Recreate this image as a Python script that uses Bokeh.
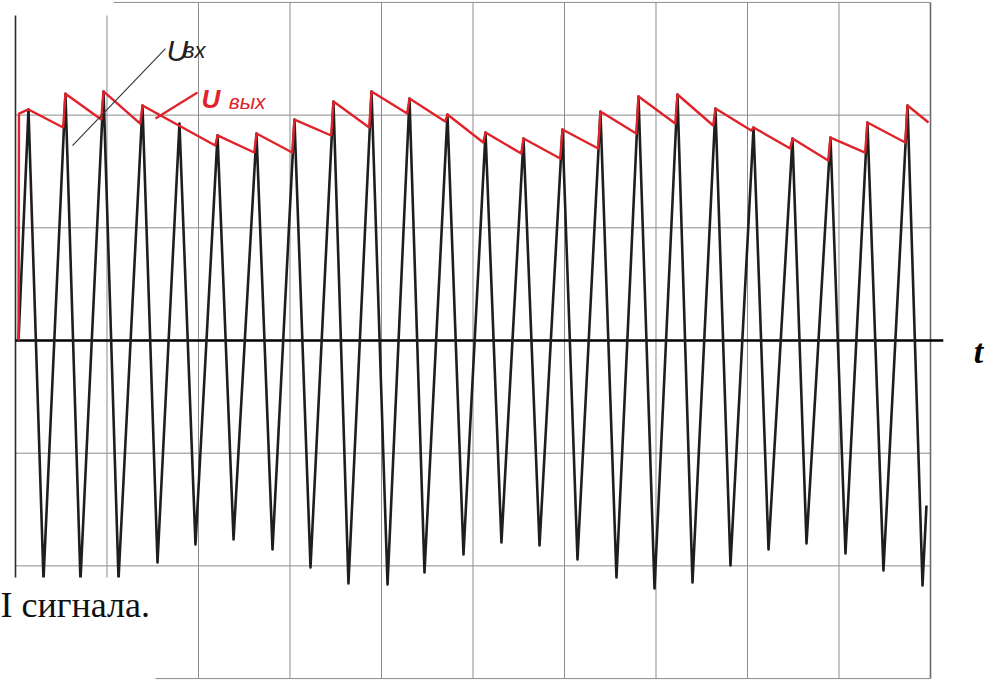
from bokeh.plotting import figure
from bokeh.models import Range1d, Label
from bokeh.embed import file_html
from bokeh.resources import INLINE

# ---- data (units: grid divisions) ----
grid_x = [0, 1, 2, 3, 4, 5, 6, 7, 8, 9, 10]
grid_y = [-3, -2, -1, 1, 2, 3]

start_t, start_v = 0.033, 0.0
peak_t = [0.142, 0.546, 0.962, 1.388, 1.792, 2.208, 2.634, 3.049, 3.475, 3.891, 4.306, 4.721,
          5.137, 5.552, 5.978, 6.393, 6.809, 7.235, 7.650, 8.066, 8.492, 8.907, 9.311, 9.749]
peak_v = [2.05, 2.19, 2.21, 2.085, 1.925, 1.82, 1.837, 1.96, 2.12, 2.21, 2.147, 2.005,
          1.846, 1.792, 1.872, 2.032, 2.165, 2.183, 2.059, 1.89, 1.792, 1.801, 1.934, 2.085]
trough_t = [0.306, 0.710, 1.126, 1.552, 1.967, 2.383, 2.809, 3.224, 3.639, 4.066, 4.470, 4.896,
            5.311, 5.727, 6.142, 6.568, 6.984, 7.399, 7.814, 8.230, 8.645, 9.071, 9.486, 9.913]
trough_v = [-2.12, -2.13, -2.12, -1.97, -1.81, -1.766, -1.855, -2.014, -2.156, -2.165, -2.059, -1.899,
            -1.792, -1.819, -1.943, -2.103, -2.201, -2.147, -1.996, -1.855, -1.801, -1.89, -2.041, -2.174]
end_t, end_v = 9.956, -1.464

red_t = [0.033, 0.038, 0.142, 0.521, 0.546, 0.937, 0.962, 1.363, 1.388, 2.183, 2.208, 2.609,
         2.634, 3.024, 3.049, 3.450, 3.475, 3.866, 3.891, 4.281, 4.306, 4.696, 4.721, 5.112,
         5.137, 5.527, 5.552, 5.953, 5.978, 6.368, 6.393, 6.784, 6.809, 7.210, 7.235, 7.625,
         7.650, 8.041, 8.066, 8.467, 8.492, 8.882, 8.907, 9.286, 9.311, 9.724, 9.749, 9.978]
red_v = [0.0, 2.014, 2.05, 1.89, 2.19, 1.961, 2.21, 1.925, 2.085, 1.730, 1.82, 1.668,
         1.837, 1.668, 1.96, 1.819, 2.12, 1.89, 2.21, 2.014, 2.147, 1.943, 2.005, 1.757,
         1.846, 1.659, 1.792, 1.615, 1.872, 1.704, 2.032, 1.837, 2.165, 1.925, 2.183, 1.908,
         2.059, 1.863, 1.89, 1.704, 1.792, 1.597, 1.801, 1.668, 1.934, 1.757, 2.085, 1.934]

axis_end = 10.14
label_in = ("U", "вх")
label_out = ("U", "вых")
axis_label = "t"
caption = "I сигнала."

# ---- figure ----
W, H = 988, 680
p = figure(width=W, height=H, x_range=Range1d(-0.1639, 10.634), y_range=Range1d(-3.017, 3.017),
           output_backend="svg", toolbar_location=None, min_border=0,
           x_axis_location=None, y_axis_location=None,
           outline_line_color=None, background_fill_color="white", border_fill_color="white")
p.grid.visible = False

ylo, yhi = grid_y[0], grid_y[-1]
inner_x = grid_x[1:-1]
p.segment(x0=inner_x, y0=[ylo] * len(inner_x), x1=inner_x, y1=[yhi] * len(inner_x),
          line_color="#8c8c8c", line_width=1)
p.segment(x0=[grid_x[0]] * len(grid_y), y0=grid_y, x1=[grid_x[-1]] * len(grid_y), y1=grid_y,
          line_color="#8c8c8c", line_width=1)
p.segment(x0=[grid_x[0]], y0=[ylo], x1=[grid_x[0]], y1=[yhi], line_color="#2b2b2b", line_width=1.6)
p.segment(x0=[grid_x[-1]], y0=[ylo], x1=[grid_x[-1]], y1=[yhi], line_color="#6a6a6a", line_width=1.6)

# white patch at top-left (scan artefact)
p.quad(left=[-0.3], right=[1.071], bottom=[2.884], top=[3.2], fill_color="white", line_color=None)

# zero axis
p.line(x=[grid_x[0], axis_end], y=[0, 0], line_color="black", line_width=2.6)

# input AM signal
wx = [start_t]
wy = [start_v]
for a, b, c, d in zip(peak_t, peak_v, trough_t, trough_v):
    wx += [a, c]
    wy += [b, d]
wx.append(end_t)
wy.append(end_v)
p.line(x=wx, y=wy, line_color="#1e1e1e", line_width=2.6, line_join="round")

# detector output
p.line(x=red_t, y=red_v, line_color="#e0232b", line_width=2.4, line_join="round")

# leader lines
p.line(x=[1.639, 0.623], y=[2.591, 1.730], line_color="#333333", line_width=1.1)
p.line(x=[1.989, 1.530], y=[2.201, 1.970], line_color="#e0232b", line_width=2.2)

# white patch at bottom-left with caption
p.quad(left=[-0.3], right=[1.530], bottom=[-3.2], top=[-2.103], fill_color="white", line_color=None)

p.add_layout(Label(x=1.650, y=2.575, text=label_in[0], text_font="Liberation Sans",
                   text_font_style="italic", text_font_size="30px", text_color="#222222",
                   text_baseline="alphabetic", text_align="left"))
p.add_layout(Label(x=1.830, y=2.575, text=label_in[1], text_font="Liberation Sans",
                   text_font_style="italic", text_font_size="22px", text_color="#222222",
                   text_baseline="alphabetic", text_align="left"))
p.add_layout(Label(x=2.033, y=2.140, text=label_out[0], text_font="Liberation Sans",
                   text_font_style="bold italic", text_font_size="26px", text_color="#e0232b",
                   text_baseline="alphabetic", text_align="left"))
p.add_layout(Label(x=2.330, y=2.118, text=label_out[1], text_font="Liberation Sans",
                   text_font_style="italic", text_font_size="21px", text_color="#e0232b",
                   text_baseline="alphabetic", text_align="left"))
p.add_layout(Label(x=10.525, y=-0.10, text=axis_label, text_font="Liberation Serif",
                   text_font_style="bold italic", text_font_size="34px", text_color="black",
                   text_baseline="alphabetic", text_align="center"))
p.add_layout(Label(x=-0.1639, y=-2.351, text=caption, text_font="Liberation Serif",
                   text_font_size="36px", text_color="#111111",
                   text_baseline="alphabetic", text_align="left"))

open("out.html", "w").write(file_html(p, INLINE))
